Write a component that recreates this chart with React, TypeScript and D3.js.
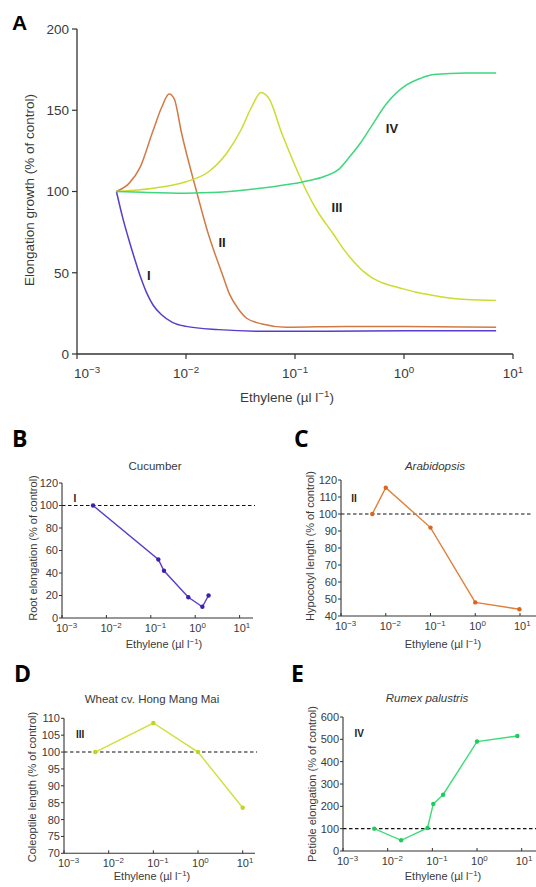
import React from "react";
import * as d3 from "d3";

type Pt = [number, number];

// ---------- Panel A data (x: ethylene µl/l, y: % of control) ----------
const curveI: Pt[] = [
  [0.0023, 100], [0.0026, 85], [0.003, 70], [0.0034, 58], [0.0038, 48], [0.0044, 37],
  [0.005, 30], [0.006, 24], [0.0075, 19.5], [0.01, 17], [0.02, 15], [0.05, 14],
  [0.2, 14], [1, 14.3], [7, 14.3],
];
const curveII: Pt[] = [
  [0.0023, 100], [0.003, 105], [0.0038, 115], [0.0049, 136], [0.006, 152], [0.007, 160],
  [0.0078, 157], [0.0091, 136], [0.0125, 100], [0.016, 74], [0.0213, 50], [0.025, 37],
  [0.03, 28], [0.036, 22], [0.05, 18.5], [0.083, 16.5], [0.3, 17], [1, 17], [7, 16.5],
];
const curveIII: Pt[] = [
  [0.0023, 100], [0.005, 102], [0.01, 106], [0.016, 112], [0.0236, 123.5], [0.032, 138],
  [0.04, 152], [0.0488, 161], [0.058, 157], [0.0755, 136], [0.1, 116], [0.128, 100],
  [0.16, 88], [0.224, 74], [0.29, 63], [0.35, 56.5], [0.43, 50.5], [0.52, 46.5],
  [0.65, 43.5], [0.92, 40.6], [1.3, 38], [1.86, 36], [2.6, 34.5], [3.76, 33.5], [7, 33],
];
const curveIV: Pt[] = [
  [0.0023, 100], [0.004, 99.5], [0.01, 99], [0.02, 99.5], [0.055, 102.5], [0.12, 106],
  [0.19, 109.5], [0.25, 113.5], [0.318, 121.5], [0.4, 130], [0.49, 139], [0.69, 154],
  [1, 164.5], [1.4, 169.5], [1.86, 172], [3.76, 173], [7, 173],
];
const curveLabelsA: { text: string; x: number; y: number }[] = [
  { text: "I", x: 0.00457, y: 48.6 },
  { text: "II", x: 0.0214, y: 69 },
  { text: "III", x: 0.243, y: 90 },
  { text: "IV", x: 0.776, y: 139 },
];
const yTicksA = [0, 50, 100, 150, 200];
const xExps = [-3, -2, -1, 0, 1];

// ---------- Small panels ----------
const cucumber: Pt[] = [[0.005, 100], [0.148, 52], [0.198, 42], [0.7, 18.4], [1.45, 10], [2.0, 20]];
const arabidopsis: Pt[] = [[0.005, 100], [0.01, 115.5], [0.1, 92], [1, 48], [9.7, 44]];
const wheat: Pt[] = [[0.005, 100], [0.1, 108.6], [1, 100], [10, 83.5]];
const rumex: Pt[] = [[0.005, 100], [0.02, 48], [0.078, 103], [0.105, 211], [0.174, 252], [1, 490], [8, 515]];

const ticksB = [0, 20, 40, 60, 80, 100, 120];
const ticksC = [40, 50, 60, 70, 80, 90, 100, 110, 120];
const ticksD = [70, 75, 80, 85, 90, 95, 100, 105, 110];
const ticksE = [0, 100, 200, 300, 400, 500, 600];

const FONT = "'Liberation Sans', Arial, Helvetica, sans-serif";
const AXIS = "#333";
const TXT = "#3a3a3a";

const Pow = ({ exp }: { exp: number }) => (
  <>
    10
    <tspan fontSize="0.72em" dy="-0.5em">{exp < 0 ? "\u2212" + Math.abs(exp) : exp}</tspan>
  </>
);

const EthyleneLabel = ({ x, y, size }: { x: number; y: number; size: number }) => (
  <text x={x} y={y} textAnchor="middle" fontSize={size} fill={TXT} fontFamily={FONT}>
    Ethylene (µl l<tspan fontSize="0.72em" dy="-0.5em">{"\u2212"}1</tspan>
    <tspan dy="0.36em">)</tspan>
  </text>
);

function PanelA() {
  const x = d3.scaleLog().domain([1e-3, 10]).range([77, 513]);
  const y = d3.scaleLinear().domain([0, 200]).range([354, 29]);
  const line = d3
    .line<Pt>()
    .x((d) => x(d[0]))
    .y((d) => y(d[1]))
    .curve(d3.curveMonotoneX);
  const series: { data: Pt[]; color: string }[] = [
    { data: curveI, color: "#5a3ccc" },
    { data: curveII, color: "#d27a45" },
    { data: curveIII, color: "#cbdc30" },
    { data: curveIV, color: "#3fd67e" },
  ];
  return (
    <g fontFamily={FONT}>
      <text x={12} y={30} fontSize={21} fontWeight="bold" fill="#000" fontFamily="Arial, 'Liberation Sans', sans-serif">A</text>
      {series.map((s, i) => (
        <path key={i} d={line(s.data) || ""} fill="none" stroke={s.color} strokeWidth={1.5} />
      ))}
      <line x1={77} x2={77} y1={y(200)} y2={y(0)} stroke={AXIS} strokeWidth={1.3} />
      <line x1={77} x2={513} y1={y(0)} y2={y(0)} stroke={AXIS} strokeWidth={1.3} />
      {yTicksA.map((t) => (
        <g key={t}>
          <line x1={72} x2={77} y1={y(t)} y2={y(t)} stroke={AXIS} strokeWidth={1.2} />
          <text x={69} y={y(t)} dy="0.36em" textAnchor="end" fontSize={13.5} fill={TXT}>{t}</text>
        </g>
      ))}
      {xExps.map((e, i) => (
        <g key={e}>
          <line x1={x(Math.pow(10, e))} x2={x(Math.pow(10, e))} y1={y(0)} y2={y(0) + 5} stroke={AXIS} strokeWidth={1.2} />
          <text x={x(Math.pow(10, e)) + (i === 0 ? 10 : 0)} y={378} textAnchor="middle" fontSize={13.5} fill={TXT}>
            <Pow exp={e} />
          </text>
        </g>
      ))}
      {curveLabelsA.map((l) => (
        <text key={l.text} x={x(l.x)} y={y(l.y)} dy="0.36em" textAnchor="middle" fontSize={13} fontWeight="bold" fill="#222">
          {l.text}
        </text>
      ))}
      <text transform="translate(34,190) rotate(-90)" textAnchor="middle" fontSize={13.5} fill={TXT}>
        Elongation growth (% of control)
      </text>
      <EthyleneLabel x={287} y={402} size={13.5} />
    </g>
  );
}

type SmallProps = {
  letter: string;
  letterX: number;
  letterY: number;
  title: string;
  italic?: boolean;
  titleX: number;
  titleY: number;
  x0: number;
  x1: number;
  axisEnd: number;
  dashEnd: number;
  yDomain: [number, number];
  yTop: number;
  yBottom: number;
  yTicks: number[];
  data: Pt[];
  color: string;
  dotColor: string;
  ylabel: string;
  ylabelX: number;
  ylabelY: number;
  xlabelX: number;
  xlabelY: number;
  roman: string;
  romanX: number;
  romanY: number;
};

function SmallPanel(p: SmallProps) {
  const x = d3.scaleLog().domain([1e-3, 10]).range([p.x0, p.x1]);
  const y = d3.scaleLinear().domain(p.yDomain).range([p.yBottom, p.yTop]);
  const line = d3.line<Pt>().x((d) => x(d[0])).y((d) => y(d[1]));
  return (
    <g fontFamily={FONT}>
      <text x={p.letterX} y={p.letterY} fontSize={23} fontWeight="bold" fill="#000" fontFamily="'Open Sans', Lato, sans-serif">
        {p.letter}
      </text>
      <text x={p.titleX} y={p.titleY} textAnchor="middle" fontSize={11.5} fill={TXT} fontStyle={p.italic ? "italic" : "normal"}>
        {p.title}
      </text>
      <line x1={p.x0} x2={p.dashEnd} y1={y(100)} y2={y(100)} stroke="#111" strokeWidth={1.1} strokeDasharray="3.5,2.5" />
      <path d={line(p.data) || ""} fill="none" stroke={p.color} strokeWidth={1.4} />
      {p.data.map((d, i) => (
        <circle key={i} cx={x(d[0])} cy={y(d[1])} r={2.2} fill={p.dotColor} />
      ))}
      <line x1={p.x0} x2={p.x0} y1={p.yTop} y2={p.yBottom} stroke={AXIS} strokeWidth={1.1} />
      <line x1={p.x0} x2={p.axisEnd} y1={p.yBottom} y2={p.yBottom} stroke={AXIS} strokeWidth={1.1} />
      {p.yTicks.map((t) => (
        <g key={t}>
          <line x1={p.x0 - 3} x2={p.x0} y1={y(t)} y2={y(t)} stroke={AXIS} strokeWidth={1} />
          <text x={p.x0 - 4} y={y(t)} dy="0.36em" textAnchor="end" fontSize={11} fill={TXT}>{t}</text>
        </g>
      ))}
      {xExps.map((e) => (
        <g key={e}>
          <line x1={x(Math.pow(10, e))} x2={x(Math.pow(10, e))} y1={p.yBottom} y2={p.yBottom - 3} stroke={AXIS} strokeWidth={1} />
          <text x={x(Math.pow(10, e)) - 6} y={p.yBottom + 14} textAnchor="start" fontSize={11} fill={TXT}>
            <Pow exp={e} />
          </text>
        </g>
      ))}
      <text x={x(p.romanX)} y={y(p.romanY)} dy="0.36em" textAnchor="middle" fontSize={10} fontWeight="bold" fill="#222">
        {p.roman}
      </text>
      <text transform={`translate(${p.ylabelX},${p.ylabelY}) rotate(-90)`} textAnchor="middle" fontSize={11} fill={TXT}>
        {p.ylabel}
      </text>
      <EthyleneLabel x={p.xlabelX} y={p.xlabelY} size={11} />
    </g>
  );
}

export default function App() {
  return (
    <svg width={536} height={887} style={{ position: "absolute", left: 0, top: 0, background: "#fff" }}>
      <rect width={536} height={887} fill="#fff" />
      <PanelA />
      <SmallPanel
        letter="B" letterX={12} letterY={447}
        title="Cucumber" titleX={155} titleY={470}
        x0={62} x1={239.6} axisEnd={253} dashEnd={255}
        yDomain={[0, 120]} yTop={483} yBottom={618} yTicks={ticksB}
        data={cucumber} color="#5a3ccc" dotColor="#3d1fb5"
        ylabel="Root elongation (% of control)" ylabelX={37} ylabelY={548}
        xlabelX={164} xlabelY={648}
        roman="I" romanX={0.00196} romanY={106}
      />
      <SmallPanel
        letter="C" letterX={294} letterY={447}
        title="Arabidopsis" italic titleX={435} titleY={470}
        x0={341} x1={520} axisEnd={536} dashEnd={532}
        yDomain={[40, 120]} yTop={480} yBottom={616} yTicks={ticksC}
        data={arabidopsis} color="#e0803a" dotColor="#d9661f"
        ylabel="Hypocotyl length (% of control)" ylabelX={314} ylabelY={546}
        xlabelX={443} xlabelY={648}
        roman="II" romanX={0.00195} romanY={109.4}
      />
      <SmallPanel
        letter="D" letterX={14} letterY={682}
        title="Wheat cv. Hong Mang Mai" titleX={152} titleY={703}
        x0={64} x1={242.7} axisEnd={255} dashEnd={257}
        yDomain={[70, 110]} yTop={718.3} yBottom={853.3} yTicks={ticksD}
        data={wheat} color="#cfe03a" dotColor="#c2d422"
        ylabel="Coleoptile length (% of control)" ylabelX={36} ylabelY={787}
        xlabelX={152} xlabelY={880}
        roman="III" romanX={0.0023} romanY={105.3}
      />
      <SmallPanel
        letter="E" letterX={291} letterY={682}
        title="Rumex palustris" italic titleX={427} titleY={702}
        x0={343} x1={521.7} axisEnd={536} dashEnd={536}
        yDomain={[0, 600]} yTop={717} yBottom={851} yTicks={ticksE}
        data={rumex} color="#3ddc78" dotColor="#22c860"
        ylabel="Petiole elongation (% of control)" ylabelX={316} ylabelY={784}
        xlabelX={443} xlabelY={880}
        roman="IV" romanX={0.0023} romanY={526}
      />
    </svg>
  );
}
